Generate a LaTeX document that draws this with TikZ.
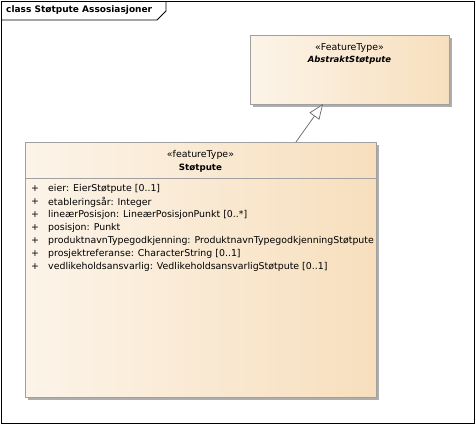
\documentclass[tikz,border=0pt]{standalone}
\usepackage{fontspec}
\setmainfont{DejaVu Sans}
\usetikzlibrary{arrows.meta,calc,shadows}

\definecolor{fillL}{HTML}{FCF4E9}
\definecolor{fillR}{HTML}{F7DFBD}
\definecolor{boxgray}{HTML}{A0A0A0}
\definecolor{shadowgray}{HTML}{AEAEAE}

\begin{document}
\begin{tikzpicture}[x=1pt,y=-1pt]
	\tikzstyle{classbox}=[draw=boxgray, line width=0.8pt, left color=fillL, right color=fillR,
		inner sep=0pt, outer sep=0pt, anchor=north west,
		drop shadow={fill=shadowgray, opacity=1, shadow xshift=3pt, shadow yshift=-3pt}]
	\tikzstyle{txt}=[inner sep=0pt, font=\fontsize{9.4}{11}\selectfont]
	\tikzstyle{boldtxt}=[inner sep=0pt, font=\fontsize{8.7}{10}\selectfont\bfseries]
	\tikzstyle{attr}=[txt, anchor=west]

	\useasboundingbox (0,0) rectangle (475,424);

	% frame with name tab
	\draw[line width=0.9pt] (1,1) rectangle (474,423);
	\draw[line width=0.9pt] (1,20) -- (157,20) -- (166,11) -- (166,1);
	\node[boldtxt, anchor=west, font=\fontsize{9}{10}\selectfont\bfseries] (title) at (6,10.5) {class Støtpute Assosiasjoner};

	% classes
	\node[classbox, minimum width=199pt, minimum height=69pt] (abstrakt) at (250,35) {};
	\node[txt] (abstraktst) at (349.5,48) {«FeatureType»};
	\node[boldtxt, font=\fontsize{8.5}{10}\selectfont\bfseries\itshape] (abstraktnavn) at (349.5,60) {AbstraktStøtpute};

	\node[classbox, minimum width=351pt, minimum height=255pt] (stotpute) at (25,142) {};
	\node[txt] (stotputest) at (200.5,155) {«featureType»};
	\node[boldtxt] (stotputenavn) at (200.5,168) {Støtpute};
	\draw[boxgray, line width=0.8pt] (stotpute.west |- 0,178) -- (stotpute.east |- 0,178);

	\foreach \a [count=\i] in {eier: EierStøtpute [0..1],
			etableringsår: Integer,
			lineærPosisjon: LineærPosisjonPunkt [0..*],
			posisjon: Punkt,
			produktnavnTypegodkjenning: ProduktnavnTypegodkjenningStøtpute,
			prosjektreferanse: CharacterString [0..1],
			vedlikeholdsansvarlig: VedlikeholdsansvarligStøtpute [0..1]} {
		\node[attr] (plus\i) at (31,176+13*\i) {+};
		\node[attr] (attr\i) at (48,176+13*\i) {\a};
	}

	% generalization
	\coordinate (genfra) at ($(stotpute.north west)!0.772!(stotpute.north east)$);
	\coordinate (gentil) at ($(abstrakt.south west)!0.367!(abstrakt.south east)$);
	\draw[draw=black!60, line width=0.7pt, -{Triangle[open, length=15pt, width=12pt, fill=white]}] (genfra) -- (gentil);
\end{tikzpicture}
\end{document}
